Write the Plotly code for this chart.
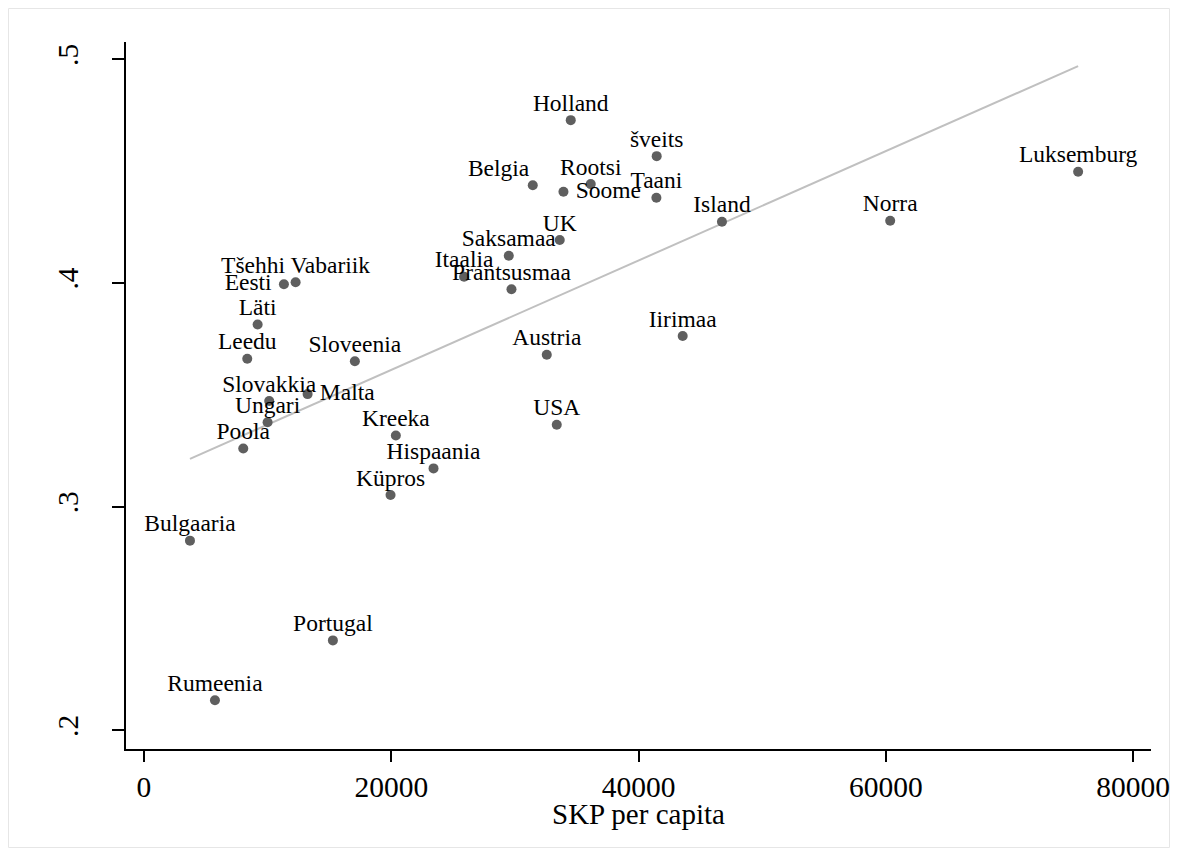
import numpy as np
import plotly.graph_objects as go

countries = ["Holland", "šveits", "Belgia", "Rootsi", "Soome", "Taani", "Island", "UK",
             "Saksamaa", "Itaalia", "Prantsusmaa", "Iirimaa", "Austria", "USA", "Norra",
             "Luksemburg", "Tšehhi Vabariik", "Eesti", "Läti", "Leedu", "Sloveenia",
             "Slovakkia", "Malta", "Ungari", "Poola", "Kreeka", "Hispaania", "Küpros",
             "Bulgaaria", "Portugal", "Rumeenia"]
gdp = [34519, 41471, 31447, 36136, 33930, 41447, 46750, 33630,
       29507, 25893, 29725, 43573, 32580, 33387, 60358,
       75560, 12264, 11318, 9192, 8353, 17057,
       10130, 13234, 9997, 8030, 20372, 23420, 19943,
       3719, 15280, 5740]
yval = [0.4728, 0.4567, 0.4437, 0.4442, 0.4408, 0.4381, 0.4274, 0.4192,
        0.4122, 0.4028, 0.3972, 0.3763, 0.3679, 0.3366, 0.4278,
        0.4497, 0.4003, 0.3994, 0.3814, 0.3661, 0.3650,
        0.3472, 0.3503, 0.3377, 0.3260, 0.3318, 0.3171, 0.3052,
        0.2848, 0.2402, 0.2134]
label_pos = ["top center"] * len(countries)
label_pos[countries.index("Soome")] = "middle right"
label_pos[countries.index("Malta")] = "middle right"
label_pos[countries.index("Eesti")] = "middle left"
label_pos[countries.index("Belgia")] = "top left"

x_ticks = [0, 20000, 40000, 60000, 80000]
y_ticks = [0.2, 0.3, 0.4, 0.5]
y_ticktext = [".2", ".3", ".4", ".5"]
x_title = "SKP per capita"

FONT = "Liberation Serif"

slope, intercept = np.polyfit(gdp, yval, 1)
xf = np.array([min(gdp), max(gdp)])
yf = slope * xf + intercept

# invisible anchor size controls the label gap from the dot
anchor_sizes = [18 if p.startswith("middle") else 4 for p in label_pos]

fig = go.Figure()
fig.add_trace(go.Scatter(x=xf, y=yf, mode="lines",
                         line=dict(color="#c0c0c0", width=2), hoverinfo="skip",
                         showlegend=False))
fig.add_trace(go.Scatter(x=gdp, y=yval, mode="markers",
                         marker=dict(color="#5f5f5f", size=10, line=dict(width=0)),
                         showlegend=False, cliponaxis=False))
fig.add_trace(go.Scatter(x=gdp, y=yval, mode="markers+text", text=countries,
                         textposition=label_pos,
                         textfont=dict(family=FONT, size=23.5, color="black"),
                         marker=dict(color="rgba(0,0,0,0)", size=anchor_sizes, opacity=0,
                                     line=dict(width=0, color="rgba(0,0,0,0)")),
                         hoverinfo="skip", showlegend=False, cliponaxis=False))

PW, PH = 1025, 707
fig.update_layout(
    width=1162, height=840,
    margin=dict(l=118, r=19, t=34, b=99, autoexpand=False),
    paper_bgcolor="white", plot_bgcolor="white",
    font=dict(family=FONT, color="black"),
    xaxis=dict(range=[-1455, 81454], tickvals=x_ticks, ticktext=[str(v) for v in x_ticks],
               showgrid=False, zeroline=False, showline=True, linecolor="black", linewidth=2,
               ticks="outside", ticklen=11, tickwidth=2, tickcolor="black", automargin=False,
               tickfont=dict(family=FONT, size=29.5), ticklabeloverflow="allow"),
    yaxis=dict(range=[0.19164, 0.50773], tickvals=y_ticks, ticktext=y_ticktext,
               showgrid=False, zeroline=False, showline=True, linecolor="black", linewidth=2,
               ticks="outside", ticklen=12, tickwidth=2, tickcolor="black", automargin=False,
               tickangle=-90, tickfont=dict(family=FONT, size=29.5), ticklabelstandoff=22),
    annotations=[dict(text=x_title, xref="x", x=40000, yref="paper", y=0, yshift=-65,
                      xanchor="center", yanchor="middle", showarrow=False,
                      font=dict(family=FONT, size=29, color="black"))],
    shapes=[dict(type="rect", xref="paper", yref="paper",
                 x0=-117.5 / PW, x1=1 + 18.5 / PW, y0=-98.5 / PH, y1=1 + 33.5 / PH,
                 line=dict(color="#e6e6e6", width=1), fillcolor="rgba(0,0,0,0)", layer="below")],
)

fig.write_html("out.html")
